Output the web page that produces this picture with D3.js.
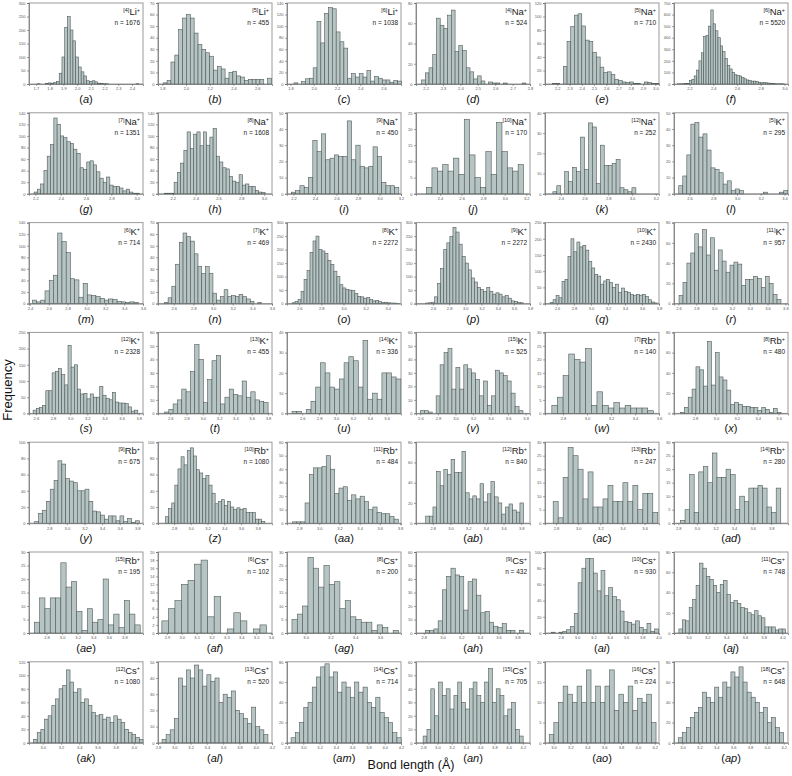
<!DOCTYPE html>
<html>
<head>
<meta charset="utf-8">
<script src="https://cdn.jsdelivr.net/npm/d3@7"></script>
<style>
  body { margin: 0; background: #fff; }
  svg { display: block; font-family: "Liberation Sans", Arial, sans-serif; }
</style>
</head>
<body>
<div id="chart"></div>
<script>
// panel letters, coordination numbers, ions and n
const panelIds = ["a","b","c","d","e","f","g","h","i","j","k","l","m","n","o","p","q","r","s","t","u","v","w","x",
  "y","z","aa","ab","ac","ad","ae","af","ag","ah","ai","aj","ak","al","am","an","ao","ap"];
const coordNumbers = [4,5,6,4,5,6, 7,8,9,10,12,5, 6,7,8,9,10,11, 12,13,14,15,7,8, 9,10,11,12,13,14, 15,6,8,9,10,11, 12,13,14,15,16,18];
const ions = ["Li","Li","Li","Na","Na","Na", "Na","Na","Na","Na","Na","K", "K","K","K","K","K","K",
  "K","K","K","K","Rb","Rb", "Rb","Rb","Rb","Rb","Rb","Rb", "Rb","Cs","Cs","Cs","Cs","Cs", "Cs","Cs","Cs","Cs","Cs","Cs"];
const nValues = [1676,455,1038,524,710,5520, 1351,1608,450,170,252,295, 714,469,2272,2272,2430,957,
  2328,455,336,525,140,480, 675,1080,484,840,247,280, 195,102,200,432,930,748, 1080,520,714,705,224,648];

// x axis extent and tick labels (bond length, Å)
const xMin = [1.65,1.764,1.77,2.145,2.10,2.07, 2.15,2.07,2.14,2.177,2.267,2.47, 2.39,2.44,2.49,2.39,2.46,2.55,
  2.52,2.45,2.42,2.55,2.65,2.60, 2.57,2.61,2.68,2.61,2.70,2.754, 2.575,2.84,2.85,2.717,2.607,2.845, 2.85,2.8,2.8,2.7,2.9,2.9];
const xMax = [2.48,2.725,2.75,2.80,3.03,3.03, 3.05,3.07,3.20,3.235,3.227,3.43, 3.60,3.60,3.52,3.80,3.80,3.83,
  3.85,3.85,3.77,3.85,3.60,3.69, 3.865,3.97,3.81,3.90,3.73,3.98, 4.04,3.607,3.77,3.937,4.006,4.06, 4.1,4.2,4.2,4.3,4.25,4.25];
const xTicks = [
  [1.7,1.8,1.9,2.0,2.1,2.2,2.3,2.4], [1.8,2.0,2.2,2.4,2.6], [1.8,2.0,2.2,2.4,2.6],
  [2.2,2.3,2.4,2.5,2.6,2.7,2.8], [2.2,2.3,2.4,2.5,2.6,2.7,2.8,2.9,3.0], [2.2,2.4,2.6,2.8,3.0],
  [2.2,2.4,2.6,2.8,3.0], [2.2,2.4,2.6,2.8,3.0], [2.2,2.4,2.6,2.8,3.0,3.2],
  [2.4,2.6,2.8,3.0,3.2], [2.4,2.6,2.8,3.0,3.2], [2.6,2.8,3.0,3.2,3.4],
  [2.4,2.6,2.8,3.0,3.2,3.4,3.6], [2.6,2.8,3.0,3.2,3.4,3.6], [2.6,2.8,3.0,3.2,3.4],
  [2.6,2.8,3.0,3.2,3.4,3.6,3.8], [2.6,2.8,3.0,3.2,3.4,3.6,3.8], [2.6,2.8,3.0,3.2,3.4,3.6,3.8],
  [2.6,2.8,3.0,3.2,3.4,3.6,3.8], [2.6,2.8,3.0,3.2,3.4,3.6,3.8], [2.6,2.8,3.0,3.2,3.4,3.6],
  [2.6,2.8,3.0,3.2,3.4,3.6,3.8], [2.8,3.0,3.2,3.4,3.6], [2.8,3.0,3.2,3.4,3.6],
  [2.8,3.0,3.2,3.4,3.6,3.8], [2.8,3.0,3.2,3.4,3.6,3.8], [2.8,3.0,3.2,3.4,3.6,3.8],
  [2.8,3.0,3.2,3.4,3.6,3.8], [2.8,3.0,3.2,3.4,3.6], [2.8,3.0,3.2,3.4,3.6,3.8],
  [2.8,3.0,3.2,3.4,3.6,3.8], [2.9,3.0,3.1,3.2,3.3,3.4,3.5,3.6], [3.0,3.2,3.4,3.6],
  [2.8,3.0,3.2,3.4,3.6,3.8], [2.8,3.0,3.2,3.4,3.6,3.8,4.0], [3.0,3.2,3.4,3.6,3.8,4.0],
  [3.0,3.2,3.4,3.6,3.8,4.0], [2.8,3.0,3.2,3.4,3.6,3.8,4.0,4.2], [2.8,3.0,3.2,3.4,3.6,3.8,4.0,4.2],
  [2.8,3.0,3.2,3.4,3.6,3.8,4.0,4.2], [3.0,3.2,3.4,3.6,3.8,4.0,4.2], [3.0,3.2,3.4,3.6,3.8,4.0,4.2]
];

// y axis (frequency)
const yMax = [300,70,140,80,120,700, 140,140,50,25,40,50, 140,70,300,300,250,80, 250,60,40,60,30,80,
  100,100,60,80,30,30, 30,20,30,60,100,80, 120,50,80,60,20,80];
const yStep = [50,10,20,20,20,100, 20,20,10,5,10,10, 20,10,50,50,50,20, 50,10,10,10,5,20,
  20,20,10,20,5,5, 5,2,5,10,20,20, 20,10,20,10,5,20];

// histogram bins: left edge of first bin, bin width, counts
const binStart = [1.71,1.808,1.83,2.177,2.16,2.10, 2.19,2.126,2.18,2.275,2.333,2.51, 2.425,2.505,2.536,2.505,2.52,2.607,
  2.568,2.53,2.48,2.6,2.707,2.662, 2.635,2.70,2.733,2.72,2.774,2.824, 2.644,2.866,2.89,2.817,2.684,2.897, 2.9,2.85,2.85,2.8,2.95,2.95];
const binWidth = [0.02,0.0326,0.033,0.0214,0.03,0.02, 0.026,0.0285,0.04,0.05,0.0333,0.034, 0.045,0.038,0.027,0.038,0.035,0.044,
  0.037,0.053,0.056,0.045,0.047,0.037, 0.044,0.037,0.042,0.041,0.045,0.049, 0.068,0.044,0.043,0.0457,0.047,0.0367, 0.04,0.05,0.052,0.054,0.055,0.048];
const binCounts = [
  [1,0,0,2,4,3,6,10,40,100,210,250,200,160,100,63,45,30,12,10,12,8,3,2,1,1,0,0,0,0,0,0,0,0,0,0,1],
  [1,3,19,25,47,57,60,57,44,34,30,27,24,12,15,13,5,10,11,7,6,3,4,4,4,4,0,5],
  [2,0,4,9,10,28,108,71,122,132,130,90,73,62,10,18,12,18,12,23,5,13,10,7,7,3,6,5],
  [4,11,16,29,65,58,55,68,73,32,38,33,16,12,5,8,3,0,2,1,1,0,1,0,0,0,0,1],
  [1,1,0,26,63,85,102,104,86,65,63,47,40,25,17,18,14,7,5,3,2,3,1,1,0,3,2,1,1],
  [1,2,2,3,5,30,40,70,120,200,270,410,420,500,640,520,460,400,330,280,220,160,130,100,80,75,70,55,45,35,30,25,25,20,15,10,12,10,8,5,3,2,1,2,1],
  [3,8,17,40,65,85,131,120,100,97,90,87,77,70,45,42,55,57,50,38,27,20,29,15,13,13,10,5,8,3,1,1],
  [1,1,1,20,37,53,75,107,78,103,107,83,107,84,98,113,65,55,45,43,30,22,20,33,15,17,13,13,6,3,2],
  [1,2,5,4,10,33,26,37,21,22,24,23,23,45,21,30,17,16,17,29,23,7,5,5,4],
  [2,8,7,9,7,11,6,23,12,5,2,13,6,22,13,8,7,9],
  [1,4,0,11,6,13,11,28,12,35,33,5,24,14,14,15,17,3,2,1,3],
  [5,11,24,43,44,35,37,27,16,15,13,6,8,2,3,2,0,0,0,0,0,1,0,0,0,1,2],
  [6,3,6,22,40,49,122,107,88,43,41,11,35,15,14,12,9,6,8,7,4,3,2,3,2],
  [1,5,15,34,53,61,58,54,43,32,26,32,26,9,3,6,12,6,7,6,8,6,4,2,0,1],
  [3,8,15,45,90,122,190,232,250,200,195,185,160,145,120,100,70,58,52,50,48,38,27,25,20,22,15,10,12,7,4,5,3,2,2,1],
  [2,3,5,25,75,130,200,225,248,282,265,220,175,150,125,95,80,60,52,45,60,45,35,40,35,25,30,20,10,8,5,3],
  [3,12,25,18,68,75,145,200,160,190,175,180,165,130,110,90,85,60,70,75,65,50,60,35,48,38,35,28,25,28,26,28,22,12,5,2],
  [8,21,40,50,69,56,73,48,65,33,53,42,31,38,41,39,18,24,24,27,25,16,27,20,9,4],
  [10,15,18,25,70,70,125,130,138,120,88,210,143,150,75,60,62,45,60,50,50,83,56,46,42,65,35,32,32,30,20,7,10],
  [1,3,7,10,18,16,31,51,40,8,25,39,43,7,12,18,14,13,24,12,16,10,9,8],
  [1,1,0,2,6,13,25,20,13,12,17,25,28,26,13,36,7,10,7,20,20,18,17],
  [2,2,1,0,13,36,45,48,18,34,18,36,33,30,25,13,24,6,13,32,30,28,24,15,5,2],
  [3,6,14,22,20,19,24,3,8,3,2,4,2,3,2,2,2,1],
  [1,6,16,24,46,43,27,71,28,60,36,33,23,9,11,9,7,7,6,6,3,6,4,1,5,1],
  [2,12,16,27,42,53,77,73,55,52,50,40,40,42,27,15,14,10,5,9,9,3,9,2,6,1,3],
  [8,18,25,47,67,82,72,90,93,83,66,62,55,59,47,37,24,27,29,22,27,20,17,19,17,18,13,13,13,5,5,2],
  [1,1,1,15,36,41,41,42,50,40,22,26,27,17,21,18,20,16,10,12,8,7,7,5,3],
  [7,7,16,51,37,53,48,63,50,50,71,30,24,27,24,39,21,29,41,26,20,9,16,19,13,11,20],
  [8,2,17,28,25,20,9,19,6,6,9,14,8,8,15,8,14,5,11,11,4],
  [1,5,18,4,19,21,15,26,17,17,20,18,5,10,8,13,13,14,13,6,4,13],
  [4,13,9,13,13,26,17,19,8,1,9,4,5,20,3,7,2,12,7,3],
  [3,6,8,12,13,17,18,4,9,0,1,5,3,0,1,2],
  [5,7,10,28,24,17,25,18,19,9,12,6,5,4,4,1,3,2,0,1],
  [2,2,3,9,32,42,48,43,42,17,38,40,28,15,16,8,5,4,7,2,2,0,2],
  [1,0,1,2,4,8,24,62,80,92,92,74,52,77,46,56,45,41,27,14,13,11,15,7,4,12,2,5],
  [4,13,12,25,33,47,69,64,56,53,47,40,48,52,38,30,32,29,25,24,20,18,22,17,15,6,6,6,3,4,4],
  [5,15,20,35,40,55,65,80,85,108,90,75,80,60,65,55,45,40,42,35,38,30,40,35,30,20,15,12,8,5],
  [2,5,8,15,40,35,45,40,48,45,35,42,38,40,25,30,28,32,20,18,15,12,22,10,8,5],
  [5,10,20,35,40,55,65,75,78,65,70,50,60,55,45,60,50,55,40,35,45,30,25,20,10,5],
  [5,10,40,20,45,35,40,25,35,45,30,25,40,45,35,30,45,55,30,40,35,20,25,30,10,5],
  [2,5,10,14,12,10,14,10,18,10,14,10,14,18,8,12,10,14,8,11,10,12,5],
  [5,10,15,25,30,35,50,45,40,55,45,60,55,70,65,75,60,50,45,40,30,35,20,25,15,10]
];

const width = 792, height = 776;
const cols = 6;
const colLeft = 29, colGap = 129, plotW = 114;
const rowTop = 3, rowGap = 109.8, plotH = 81;

const svg = d3.select("#chart").append("svg")
  .attr("width", width)
  .attr("height", height);

panelIds.forEach(function(id, i) {
  const col = i % cols, row = Math.floor(i / cols);
  const g = svg.append("g")
    .attr("transform", "translate(" + (colLeft + col * colGap) + "," + (rowTop + row * rowGap) + ")");

  const x = d3.scaleLinear().domain([xMin[i], xMax[i]]).range([0, plotW]);
  const y = d3.scaleLinear().domain([0, yMax[i]]).range([plotH, 0]);

  // frame
  g.append("rect")
    .attr("width", plotW)
    .attr("height", plotH)
    .attr("fill", "none")
    .attr("stroke", "#9a9a9a")
    .attr("stroke-width", 1);

  // bars
  const bins = binCounts[i].map(function(c, k) {
    return { x0: binStart[i] + k * binWidth[i], x1: binStart[i] + (k + 1) * binWidth[i], count: c };
  }).filter(function(d) { return d.count > 0; });

  g.selectAll("rect.bar")
    .data(bins)
    .enter()
    .append("rect")
    .attr("class", "bar")
    .attr("x", function(d) { return x(d.x0); })
    .attr("y", function(d) { return y(d.count); })
    .attr("width", function(d) { return x(d.x1) - x(d.x0); })
    .attr("height", function(d) { return plotH - y(d.count); })
    .attr("fill", "#b6c5c4")
    .attr("stroke", "#4f5a58")
    .attr("stroke-width", 0.6);

  // axes
  const xAxis = d3.axisBottom(x)
    .tickValues(xTicks[i])
    .tickSize(2)
    .tickPadding(1.5)
    .tickFormat(d3.format(".1f"));
  const yAxis = d3.axisLeft(y)
    .tickValues(d3.range(0, yMax[i] + yStep[i] / 2, yStep[i]))
    .tickSize(2)
    .tickPadding(1.5);

  const gx = g.append("g").attr("transform", "translate(0," + plotH + ")").call(xAxis);
  const gy = g.append("g").call(yAxis);
  [gx, gy].forEach(function(a) {
    a.select(".domain").attr("stroke", "#777").attr("stroke-width", 0.8);
    a.selectAll(".tick line").attr("stroke", "#666").attr("stroke-width", 0.6);
    a.selectAll(".tick text")
      .attr("fill", "#555")
      .style("font-size", "4px")
      .style("font-family", "Liberation Sans, Arial, sans-serif");
  });

  // ion label with coordination number
  const ion = g.append("text")
    .attr("x", plotW - 3)
    .attr("y", 12)
    .attr("text-anchor", "end")
    .attr("fill", "#222");
  ion.append("tspan").attr("font-size", 5.5).attr("dy", -3).text("[" + coordNumbers[i] + "]");
  ion.append("tspan").attr("font-size", 9.5).attr("dy", 3).text(ions[i]);
  ion.append("tspan").attr("font-size", 5.5).attr("dy", -3.5).text("+");

  g.append("text")
    .attr("x", plotW - 3)
    .attr("y", 22)
    .attr("text-anchor", "end")
    .attr("font-size", 6.5)
    .attr("fill", "#222")
    .text("n = " + nValues[i]);

  // panel letter
  const lab = g.append("text")
    .attr("x", plotW / 2)
    .attr("y", plotH + 19)
    .attr("text-anchor", "middle")
    .attr("font-size", 11)
    .attr("fill", "#111");
  lab.append("tspan").text("(");
  lab.append("tspan").attr("font-style", "italic").text(id);
  lab.append("tspan").text(")");
});

svg.append("text")
  .attr("transform", "translate(12,390) rotate(-90)")
  .attr("text-anchor", "middle")
  .attr("font-size", 13)
  .attr("fill", "#111")
  .text("Frequency");

svg.append("text")
  .attr("x", 411)
  .attr("y", 769)
  .attr("text-anchor", "middle")
  .attr("font-size", 12.5)
  .attr("fill", "#111")
  .text("Bond length (Å)");
</script>
</body>
</html>
